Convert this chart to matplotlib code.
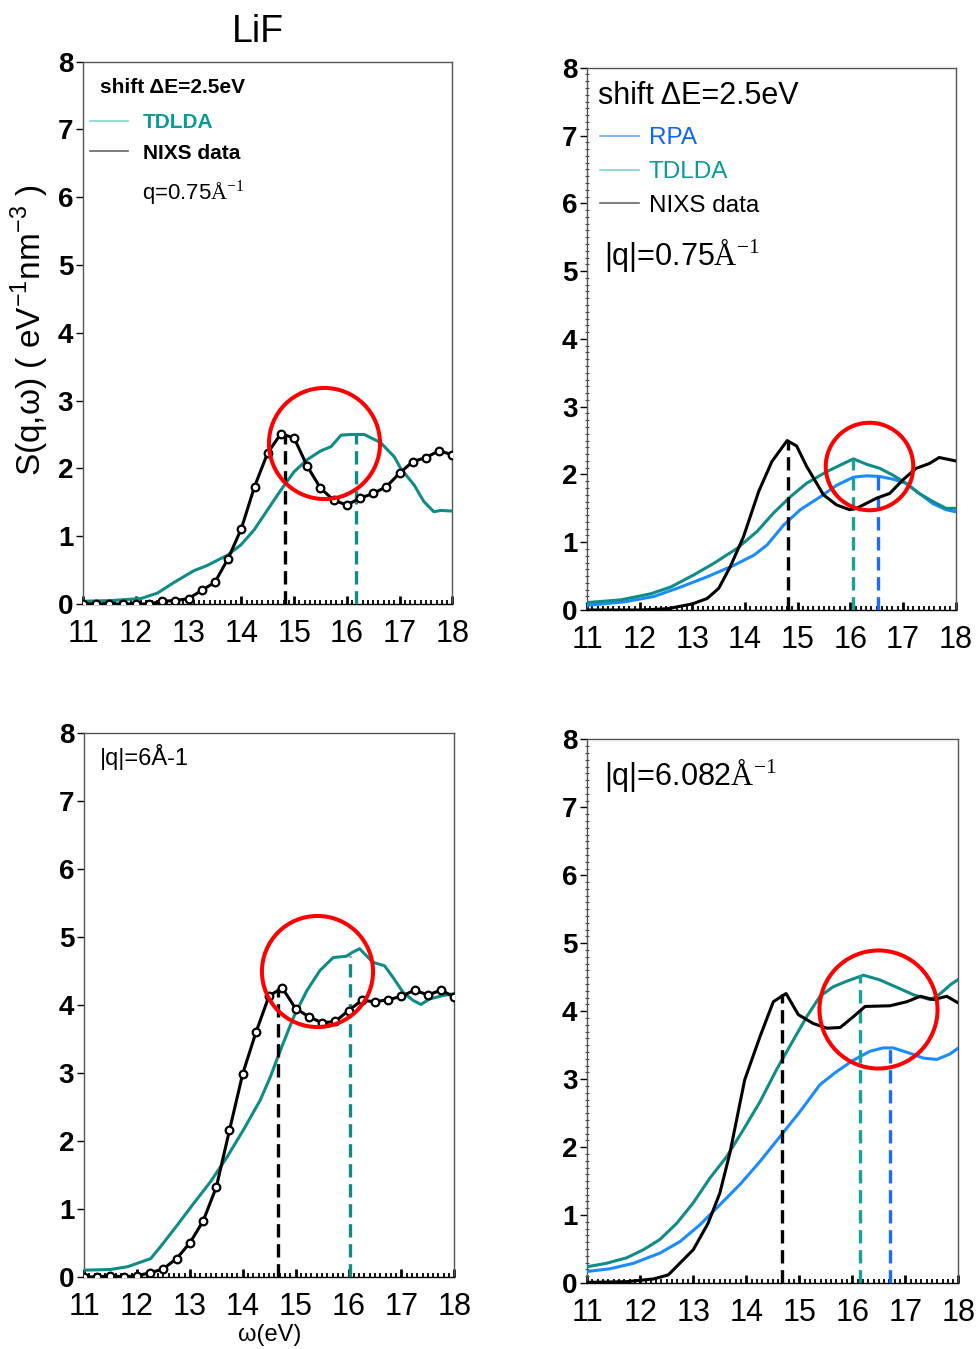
import matplotlib
matplotlib.use("Agg")
import matplotlib.pyplot as plt
from matplotlib.lines import Line2D
from matplotlib.ticker import MultipleLocator

plt.rcParams['font.family'] = ['Liberation Sans', 'DejaVu Sans']
plt.rcParams['mathtext.fontset'] = 'custom'
plt.rcParams['mathtext.rm'] = 'Liberation Serif'
plt.rcParams['mathtext.sf'] = 'Liberation Sans'

TEAL = '#0f8c87'
BLUE = '#1a8cff'

# ---- panel 1: q = 0.75, TDLDA vs NIXS (markers) ----
p1_nixs_x = [11.0, 11.25, 11.5, 11.75, 12.0, 12.25, 12.5, 12.75, 13.0, 13.25, 13.5, 13.75, 14.0,
             14.25, 14.5, 14.75, 15.0, 15.25, 15.5, 15.75, 16.0, 16.25, 16.5, 16.75, 17.0, 17.25,
             17.5, 17.75, 18.0]
p1_nixs_y = [0.0, 0.0, 0.0, 0.0, 0.0, 0.0, 0.04, 0.05, 0.08, 0.2, 0.32, 0.67, 1.11,
             1.73, 2.23, 2.51, 2.45, 2.03, 1.71, 1.53, 1.46, 1.56, 1.63, 1.73, 1.93, 2.1,
             2.16, 2.26, 2.2]
p1_tdlda_x = [11.0, 11.53, 12.1, 12.41, 12.73, 13.1, 13.36, 13.61, 13.74, 13.99, 14.24, 14.49,
              14.75, 15.0, 15.25, 15.51, 15.7, 15.89, 16.07, 16.33, 16.64, 16.9, 17.02, 17.28,
              17.46, 17.65, 17.78, 18.0]
p1_tdlda_y = [0.04, 0.05, 0.08, 0.16, 0.32, 0.49, 0.57, 0.67, 0.72, 0.87, 1.09, 1.38,
              1.68, 1.95, 2.13, 2.26, 2.32, 2.49, 2.5, 2.5, 2.38, 2.17, 2.0, 1.75,
              1.51, 1.36, 1.38, 1.37]
p1_peaks = [(14.83, 2.51, 'black'), (16.18, 2.5, TEAL)]
p1_circle = (15.56, 2.38, 80)

# ---- panel 2: |q| = 0.75, RPA, TDLDA, NIXS ----
p2_nixs_x = [11.0, 12.02, 12.53, 13.0, 13.28, 13.5, 13.72, 13.97, 14.26, 14.51, 14.8, 14.98,
             15.17, 15.49, 15.74, 15.99, 16.12, 16.5, 16.75, 17.0, 17.25, 17.5, 17.69, 18.0]
p2_nixs_y = [0.0, 0.0, 0.02, 0.09, 0.17, 0.32, 0.64, 1.08, 1.75, 2.19, 2.5, 2.42,
             2.12, 1.7, 1.55, 1.48, 1.5, 1.65, 1.72, 1.92, 2.09, 2.16, 2.25, 2.2]
p2_tdlda_x = [11.0, 11.64, 12.21, 12.59, 13.03, 13.41, 13.85, 14.23, 14.54, 14.86, 15.17, 15.55,
              15.87, 16.06, 16.31, 16.56, 16.81, 17.06, 17.31, 17.57, 17.82, 18.0]
p2_tdlda_y = [0.11, 0.15, 0.24, 0.34, 0.52, 0.69, 0.91, 1.16, 1.43, 1.67, 1.87, 2.04,
              2.16, 2.23, 2.15, 2.09, 1.99, 1.87, 1.72, 1.6, 1.5, 1.5]
p2_rpa_x = [11.0, 11.71, 12.27, 12.78, 13.28, 13.79, 14.17, 14.42, 14.73, 15.05, 15.43, 15.74,
            16.06, 16.31, 16.56, 16.81, 17.06, 17.31, 17.57, 17.82, 18.0]
p2_rpa_y = [0.07, 0.12, 0.2, 0.34, 0.49, 0.66, 0.81, 0.96, 1.25, 1.48, 1.67, 1.84,
            1.96, 1.98, 1.97, 1.93, 1.87, 1.72, 1.57, 1.48, 1.45]
p2_peaks = [(14.81, 2.49, 'black'), (16.06, 2.23, '#1aa09a'), (16.52, 1.98, '#1a6cff')]
p2_circle = (16.35, 2.12, 63)

# ---- panel 3: |q| = 6, TDLDA vs NIXS (markers) ----
p3_nixs_x = [11.0, 11.25, 11.5, 11.75, 12.0, 12.25, 12.5, 12.75, 13.0, 13.25, 13.5, 13.75, 14.0,
             14.25, 14.5, 14.75, 15.0, 15.25, 15.5, 15.75, 16.0, 16.25, 16.5, 16.75, 17.0, 17.25,
             17.5, 17.75, 18.0]
p3_nixs_y = [0.0, 0.0, 0.02, 0.0, 0.02, 0.06, 0.12, 0.27, 0.5, 0.82, 1.32, 2.16, 2.99,
             3.6, 4.14, 4.25, 3.95, 3.83, 3.74, 3.76, 3.92, 4.07, 4.05, 4.08, 4.13, 4.22,
             4.15, 4.22, 4.12]
p3_tdlda_x = [11.0, 11.5, 11.82, 12.26, 12.44, 12.76, 13.07, 13.39, 13.7, 14.01, 14.33, 14.52,
              14.71, 14.96, 15.21, 15.46, 15.71, 15.96, 16.08, 16.21, 16.46, 16.68, 16.84, 17.03,
              17.22, 17.37, 17.53, 17.78, 18.0]
p3_tdlda_y = [0.1, 0.11, 0.15, 0.27, 0.44, 0.76, 1.08, 1.4, 1.76, 2.16, 2.6, 2.94,
              3.33, 3.82, 4.21, 4.51, 4.7, 4.72, 4.78, 4.83, 4.63, 4.58, 4.41, 4.19,
              4.07, 4.01, 4.09, 4.14, 4.17]
p3_peaks = [(14.67, 4.25, 'black'), (16.02, 4.72, TEAL)]
p3_circle = (15.4, 4.5, 80)

# ---- panel 4: |q| = 6.082, RPA, TDLDA, NIXS ----
p4_nixs_x = [11.0, 11.74, 12.25, 12.53, 13.0, 13.28, 13.5, 13.69, 13.97, 14.26, 14.51, 14.75,
             14.98, 15.26, 15.52, 15.77, 16.02, 16.24, 16.71, 17.03, 17.28, 17.53, 17.78, 18.0]
p4_nixs_y = [0.01, 0.02, 0.06, 0.12, 0.49, 0.88, 1.32, 1.91, 2.99, 3.63, 4.14, 4.26,
             3.95, 3.82, 3.75, 3.76, 3.92, 4.07, 4.08, 4.14, 4.22, 4.17, 4.22, 4.12]
p4_tdlda_x = [11.0, 11.36, 11.74, 12.06, 12.37, 12.69, 13.0, 13.31, 13.63, 13.94, 14.26, 14.57,
              14.89, 15.14, 15.39, 15.64, 15.89, 16.21, 16.52, 16.84, 17.16, 17.47, 17.66, 17.85, 18.0]
p4_tdlda_y = [0.24, 0.29, 0.37, 0.49, 0.64, 0.88, 1.18, 1.54, 1.86, 2.25, 2.67, 3.14,
              3.58, 3.92, 4.22, 4.36, 4.44, 4.53, 4.46, 4.35, 4.24, 4.17, 4.26, 4.39, 4.47]
p4_rpa_x = [11.0, 11.43, 11.87, 12.37, 12.75, 13.13, 13.5, 13.88, 14.26, 14.64, 15.01, 15.39,
            15.7, 16.02, 16.33, 16.58, 16.77, 17.09, 17.34, 17.59, 17.84, 18.0]
p4_rpa_y = [0.17, 0.21, 0.29, 0.44, 0.61, 0.86, 1.15, 1.45, 1.79, 2.16, 2.52, 2.92,
            3.11, 3.28, 3.41, 3.46, 3.46, 3.38, 3.31, 3.29, 3.37, 3.46]
p4_peaks = [(14.67, 4.26, 'black'), (16.14, 4.53, '#1aa09a'), (16.71, 3.46, '#1a6cff')]
p4_circle = (16.49, 4.03, 85)

fig = plt.figure(figsize=(9.77, 13.49), dpi=100)
ax1 = fig.add_axes([0.085, 0.5523, 0.378, 0.402])
ax2 = fig.add_axes([0.601, 0.5478, 0.377, 0.402])
ax3 = fig.add_axes([0.086, 0.0534, 0.379, 0.403])
ax4 = fig.add_axes([0.601, 0.0489, 0.380, 0.403])


def style(ax, yminor):
    ax.set_xlim(11, 18)
    ax.set_ylim(0, 8)
    ax.xaxis.set_major_locator(MultipleLocator(1))
    ax.xaxis.set_minor_locator(MultipleLocator(0.1))
    ax.yaxis.set_major_locator(MultipleLocator(1))
    ax.tick_params(axis='x', which='major', direction='in', length=6, width=2, labelsize=22, pad=11)
    ax.tick_params(axis='x', which='minor', direction='in', length=3, width=1.3)
    ax.tick_params(axis='y', which='major', direction='out', length=5, width=1, labelsize=20, pad=2)
    if yminor:
        ax.yaxis.set_minor_locator(MultipleLocator(0.1))
        ax.tick_params(axis='y', which='minor', direction='inout', length=3, width=0.8, color='#444444')
    for lab in ax.get_yticklabels():
        lab.set_fontweight('bold')
    for s in ax.spines.values():
        s.set_color('#555555')
        s.set_linewidth(1)
    ax.spines['bottom'].set_color('black')


def extras(ax, peaks, circle):
    for px, py, c in peaks:
        ax.vlines(px, 0, py, colors=c, linewidth=2.4, linestyles=(0, (4, 2)), zorder=4)
    cx, cy, size = circle
    ax.plot([cx], [cy], marker='o', ms=size, mfc='none', mec='red', mew=2.9, zorder=6)


# panel 1
ax1.plot(p1_tdlda_x, p1_tdlda_y, color=TEAL, lw=2.2, zorder=3)
ax1.plot(p1_nixs_x, p1_nixs_y, color='black', lw=2.2, marker='o', ms=5.5, mfc='white',
         mec='black', mew=1.6, zorder=5)
extras(ax1, p1_peaks, p1_circle)
style(ax1, False)
ax1.text(0.046, 0.952, 'shift ΔE=2.5eV', transform=ax1.transAxes, fontsize=15,
         fontweight='bold', va='center', ha='left')
ax1.legend(handles=[Line2D([], [], color='#7fd6d2', lw=1.2),
                    Line2D([], [], color='#666666', lw=1.2)],
           labels=['TDLDA', 'NIXS data'], loc='upper left', bbox_to_anchor=(0.02, 0.905),
           frameon=False, borderpad=0, borderaxespad=0, handlelength=1.8,
           handletextpad=0.7, labelspacing=0.55, prop={'size': 15, 'weight': 'bold'},
           labelcolor=['#0c9a94', 'black'])
ax1.text(0.16, 0.758, 'q=0.75$\\mathrm{Å}^{-1}$', transform=ax1.transAxes, fontsize=16,
         va='center', ha='left')

# panel 2
ax2.plot(p2_rpa_x, p2_rpa_y, color=BLUE, lw=2.2, zorder=3)
ax2.plot(p2_tdlda_x, p2_tdlda_y, color=TEAL, lw=2.2, zorder=3)
ax2.plot(p2_nixs_x, p2_nixs_y, color='black', lw=2.2, zorder=5)
extras(ax2, p2_peaks, p2_circle)
style(ax2, True)
ax2.text(0.03, 0.948, 'shift ΔE=2.5eV', transform=ax2.transAxes, fontsize=22,
         va='center', ha='left')
ax2.legend(handles=[Line2D([], [], color='#6aaaf5', lw=1.2),
                    Line2D([], [], color='#7fd6d2', lw=1.2),
                    Line2D([], [], color='#666666', lw=1.2)],
           labels=['RPA', 'TDLDA', 'NIXS data'], loc='upper left', bbox_to_anchor=(0.035, 0.89),
           frameon=False, borderpad=0, borderaxespad=0, handlelength=1.6,
           handletextpad=0.4, labelspacing=0.48, prop={'size': 17.5},
           labelcolor=['#0a64ff', '#0c9a94', 'black'])
ax2.text(0.046, 0.655, '|q|=0.75$\\mathrm{Å}^{-1}$', transform=ax2.transAxes, fontsize=22,
         va='center', ha='left')

# panel 3
ax3.plot(p3_tdlda_x, p3_tdlda_y, color=TEAL, lw=2.2, zorder=3)
ax3.plot(p3_nixs_x, p3_nixs_y, color='black', lw=2.2, marker='o', ms=5.5, mfc='white',
         mec='black', mew=1.6, zorder=5)
extras(ax3, p3_peaks, p3_circle)
style(ax3, False)
ax3.text(0.043, 0.956, '|q|=6Å-1', transform=ax3.transAxes, fontsize=17,
         va='center', ha='left')

# panel 4
ax4.plot(p4_rpa_x, p4_rpa_y, color=BLUE, lw=2.2, zorder=3)
ax4.plot(p4_tdlda_x, p4_tdlda_y, color=TEAL, lw=2.2, zorder=3)
ax4.plot(p4_nixs_x, p4_nixs_y, color='black', lw=2.2, zorder=5)
extras(ax4, p4_peaks, p4_circle)
style(ax4, True)
ax4.text(0.046, 0.934, '|q|=6.082$\\mathrm{Å}^{-1}$', transform=ax4.transAxes, fontsize=22,
         va='center', ha='left')

fig.text(258 / 977, 1 - 32 / 1349, 'LiF', fontsize=27, ha='center', va='center')
fig.text(30 / 977, 1 - 330 / 1349, 'S(q,ω) ( eV$^{\\mathsf{-1}}$nm$^{\\mathsf{-3}}$ )',
         fontsize=24, rotation=90, ha='center', va='center')
fig.text(270 / 977, 1 - 1335 / 1349, 'ω(eV)', fontsize=17, ha='center', va='center')

fig.savefig('out.png', dpi=100)
